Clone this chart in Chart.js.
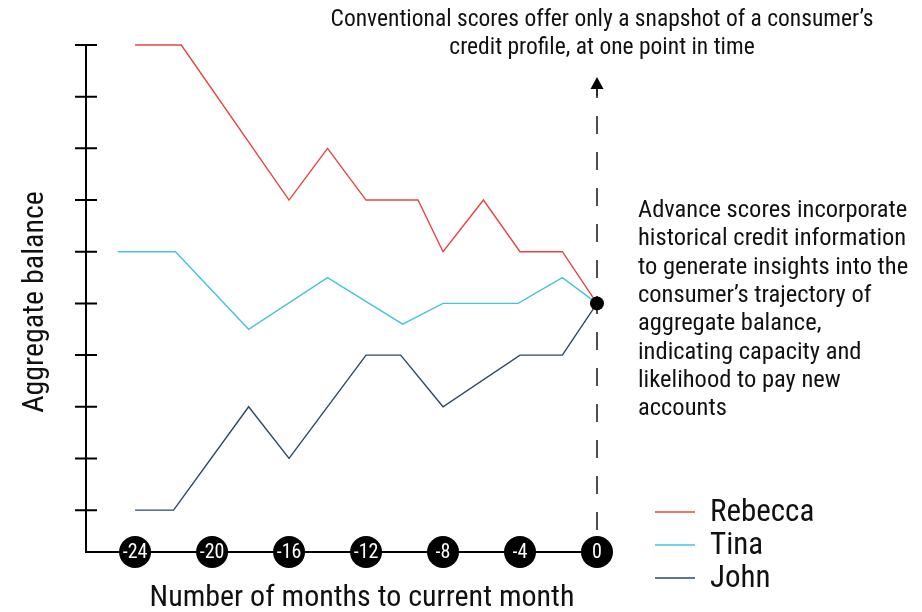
<!DOCTYPE html>
<html>
<head>
<meta charset="utf-8">
<script src="https://cdn.jsdelivr.net/npm/chart.js@4.4.1/dist/chart.umd.min.js"></script>
<style>
  html, body { margin: 0; padding: 0; background: #fff; }
  #wrap { position: relative; width: 922px; height: 612px; }
</style>
</head>
<body>
<div id="wrap"><canvas id="balanceChart" width="922" height="612"></canvas></div>
<script>
// Aggregate balance trajectories (months to current month, balance level 0-9)
const SERIES_NAMES = ["Rebecca", "Tina", "John"];
const SERIES_COLORS = ["#e8453f", "#42c6dc", "#2c4866"];

const rebeccaMonths = [-24, -21.6, -16, -14, -12, -9.3, -8, -5.9, -4, -1.8, 0];
const rebeccaLevels = [9, 9, 6, 7, 6, 6, 5, 6, 5, 5, 4];

const tinaMonths = [-24.9, -21.9, -18.1, -14, -10.1, -8, -4.1, -1.8, 0];
const tinaLevels = [5, 5, 3.5, 4.5, 3.6, 4, 4, 4.5, 4];

const johnMonths = [-24, -22, -18.1, -16, -12, -10.2, -8, -4, -1.8, 0];
const johnLevels = [0, 0, 2, 1, 3, 3, 2, 3, 3, 4];

const xTickLabels = [-24, -20, -16, -12, -8, -4, 0];
const yTickLevels = [0, 1, 2, 3, 4, 5, 6, 7, 8, 9];

const topNote = [
  "Conventional scores offer only a snapshot of a consumer\u2019s",
  "credit profile, at one point in time"
];
const sideNote = [
  "Advance scores incorporate",
  "historical credit information",
  "to generate insights into the",
  "consumer\u2019s trajectory of",
  "aggregate balance,",
  "indicating capacity and",
  "likelihood to pay new",
  "accounts"
];
const xTitle = "Number of months to current month";
const yTitle = "Aggregate balance";

const FONT = "'Liberation Sans Narrow', 'Roboto Condensed', 'Arial Narrow', Roboto, sans-serif";

const toPoints = (months, levels) => months.map((m, i) => ({ x: m, y: levels[i] }));

const decorPlugin = {
  id: "decor",
  afterDraw(chart) {
    const ctx = chart.ctx;
    const xs = chart.scales.x;
    const ys = chart.scales.y;
    const left = chart.chartArea.left;
    const top = chart.chartArea.top;
    const bottom = chart.chartArea.bottom;
    const x0 = xs.getPixelForValue(0);

    ctx.save();
    ctx.strokeStyle = "#000";
    ctx.lineWidth = 2;

    // y axis with tick marks, then x axis
    ctx.beginPath();
    ctx.moveTo(left, top);
    ctx.lineTo(left, bottom);
    ctx.lineTo(x0, bottom);
    yTickLevels.forEach((lv) => {
      const y = ys.getPixelForValue(lv);
      ctx.moveTo(left - 11, y);
      ctx.lineTo(left + 11, y);
    });
    ctx.stroke();

    // dashed arrow at current month
    ctx.lineWidth = 1.6;
    ctx.strokeStyle = "#222";
    ctx.setLineDash([18, 18]);
    ctx.beginPath();
    ctx.moveTo(x0, bottom - 22);
    ctx.lineTo(x0, 88);
    ctx.stroke();
    ctx.setLineDash([]);
    ctx.beginPath();
    ctx.moveTo(x0, 96);
    ctx.lineTo(x0, 86);
    ctx.stroke();
    ctx.fillStyle = "#000";
    ctx.beginPath();
    ctx.moveTo(x0, 77);
    ctx.lineTo(x0 - 6.5, 89);
    ctx.lineTo(x0 + 6.5, 89);
    ctx.closePath();
    ctx.fill();

    // convergence dot
    ctx.beginPath();
    ctx.arc(x0, ys.getPixelForValue(4), 7, 0, Math.PI * 2);
    ctx.fill();

    // x tick circles
    ctx.textAlign = "center";
    ctx.textBaseline = "middle";
    ctx.font = "20px " + FONT;
    xTickLabels.forEach((t) => {
      const x = xs.getPixelForValue(t);
      ctx.fillStyle = "#000";
      ctx.beginPath();
      ctx.arc(x, bottom, 16, 0, Math.PI * 2);
      ctx.fill();
      ctx.fillStyle = "#fff";
      ctx.fillText(String(t), x, bottom + 1);
    });

    // axis titles
    ctx.fillStyle = "#111";
    ctx.font = "30px " + FONT;
    ctx.fillText(xTitle, 362, 598);
    ctx.save();
    ctx.translate(35, 302);
    ctx.rotate(-Math.PI / 2);
    ctx.fillText(yTitle, 0, 0);
    ctx.restore();

    // notes
    ctx.font = "23.5px " + FONT;
    topNote.forEach((line, i) => ctx.fillText(line, 602, 20 + i * 28));
    ctx.textAlign = "left";
    ctx.font = "24.5px " + FONT;
    sideNote.forEach((line, i) => ctx.fillText(line, 638, 211 + i * 28.3));

    // legend
    ctx.font = "31px " + FONT;
    SERIES_NAMES.forEach((name, i) => {
      const y = 512 + i * 33;
      ctx.strokeStyle = SERIES_COLORS[i];
      ctx.lineWidth = 1.5;
      ctx.beginPath();
      ctx.moveTo(655, y);
      ctx.lineTo(695, y);
      ctx.stroke();
      ctx.fillStyle = "#111";
      ctx.fillText(name, 710, y + 1);
    });
    ctx.restore();
  }
};

const seriesData = [
  toPoints(rebeccaMonths, rebeccaLevels),
  toPoints(tinaMonths, tinaLevels),
  toPoints(johnMonths, johnLevels)
];

new Chart(document.getElementById("balanceChart"), {
  type: "line",
  data: {
    datasets: SERIES_NAMES.map((name, i) => ({
      label: name,
      data: seriesData[i],
      borderColor: SERIES_COLORS[i],
      borderWidth: 1.4,
      pointRadius: 0,
      tension: 0,
      fill: false,
      clip: false
    }))
  },
  options: {
    responsive: false,
    animation: false,
    events: [],
    layout: { padding: { left: 86, right: 325, top: 45, bottom: 60 } },
    plugins: { legend: { display: false }, tooltip: { enabled: false } },
    scales: {
      x: { type: "linear", min: -26.55, max: 0, display: false },
      y: { type: "linear", min: -0.81, max: 9, display: false }
    }
  },
  plugins: [decorPlugin]
});
</script>
</body>
</html>
